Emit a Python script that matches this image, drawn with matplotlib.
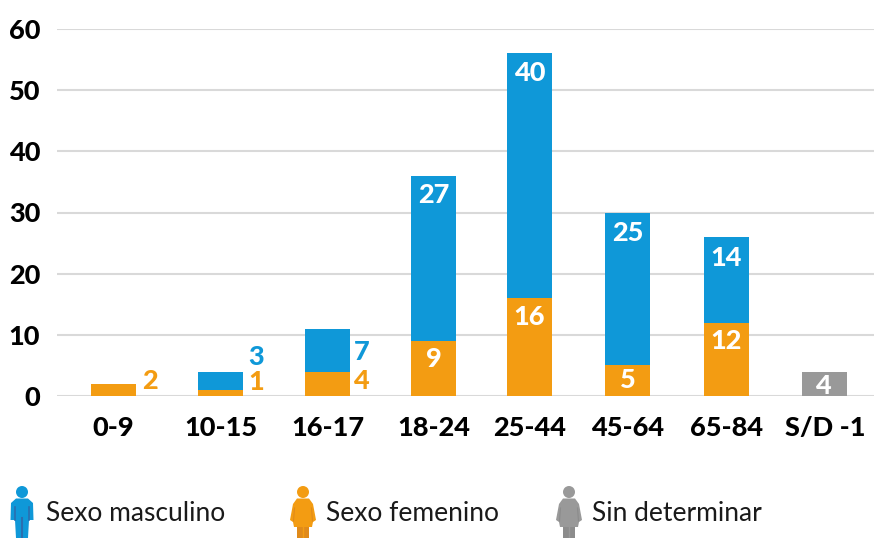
import matplotlib
matplotlib.use('Agg')
import matplotlib.pyplot as plt
from matplotlib.patches import Circle, Polygon

plt.rcParams['font.family'] = ['Lato', 'DejaVu Sans']

# Data
categories = ['0-9', '10-15', '16-17', '18-24', '25-44', '45-64', '65-84', 'S/D -1']
femenino = [2, 1, 4, 9, 16, 5, 12, 0]
masculino = [0, 3, 7, 27, 40, 25, 14, 0]
sin_determinar = [0, 0, 0, 0, 0, 0, 0, 4]
y_ticks = [0, 10, 20, 30, 40, 50, 60]

# Bars are not evenly spaced in the original (pixels from the left edge)
bar_x = [113.5, 220.5, 327.5, 433.5, 529.5, 627.5, 726.5, 825]
bar_w = 45

# Where each value label sits: (dx from bar centre in px, height in axis units)
fem_label_pos = [(36, 2.45), (36, 2.25), (33, 2.45), (0, 6.05), (0, 12.85), (0, 2.55), (0, 8.95)]
mas_label_pos = [None, (36, 6.35), (34, 7.15), (0, 32.85), (0, 52.75), (0, 26.65), (0, 22.55)]

BLUE = '#0F98D8'
ORANGE = '#F39C12'
GRAY = '#999999'
W, H = 874, 538
LABEL_SIZE = 19.5

fig = plt.figure(figsize=(W / 100, H / 100), dpi=100)
y0, y60 = 396, 29
ax = fig.add_axes([57 / W, 1 - y0 / H, (W - 57) / W, (y0 - y60) / H])
ax.set_xlim(57, W)
ax.set_ylim(0, 60)
ax.patch.set_alpha(0)

ax.bar(bar_x, femenino, width=bar_w, color=ORANGE, zorder=3)
ax.bar(bar_x, masculino, width=bar_w, bottom=femenino, color=BLUE, zorder=3)
ax.bar(bar_x, sin_determinar, width=bar_w, color=GRAY, zorder=3)

ax.set_yticks(y_ticks)
ax.set_xticks(bar_x)
ax.set_xticklabels(categories)
ax.tick_params(length=0)
ax.tick_params(axis='x', pad=14.5)
ax.tick_params(axis='y', pad=12)
for lab in ax.get_xticklabels() + ax.get_yticklabels():
    lab.set_fontsize(LABEL_SIZE)
    lab.set_fontweight('black')
    lab.set_color('black')
ax.grid(axis='y', color='#D9D9D9', lw=1.5, zorder=0)
ax.set_axisbelow(True)
for s in ax.spines.values():
    s.set_visible(False)


def value_label(x, y, val, color):
    ax.text(x, y, str(val), color=color, fontsize=LABEL_SIZE, fontweight='black',
            ha='center', va='center', zorder=4)


# Small bars get their labels outside, to the right
for i in range(7):
    dx, y = fem_label_pos[i]
    value_label(bar_x[i] + dx, y, femenino[i], 'white' if dx == 0 else ORANGE)
    if mas_label_pos[i]:
        dx, y = mas_label_pos[i]
        value_label(bar_x[i] + dx, y, masculino[i], 'white' if dx == 0 else BLUE)
value_label(bar_x[7] - 2, 1.65, sin_determinar[7], 'white')

# Legend pictograms on an overlay in pixel coordinates
ov = fig.add_axes([0, 0, 1, 1])
ov.set_xlim(0, W)
ov.set_ylim(H, 0)
ov.axis('off')


def man(cx, color, dark):
    ov.add_patch(Circle((cx, 492), 6, color=color, lw=0))
    ov.add_patch(Polygon([(cx - 6, 498.5), (cx + 6, 498.5), (cx + 11, 503), (cx + 11.5, 520), (cx + 7, 520),
                          (cx + 6, 538), (cx - 6, 538), (cx - 7, 520), (cx - 11.5, 520), (cx - 11, 503)],
                         color=color, lw=0))
    ov.plot([cx, cx], [518, 538], color=dark, lw=1.5)
    ov.plot([cx - 7, cx - 7], [507, 520], color=dark, lw=1.2)
    ov.plot([cx + 7, cx + 7], [507, 520], color=dark, lw=1.2)


def woman(cx, color, dark):
    ov.add_patch(Circle((cx, 492), 6, color=color, lw=0))
    ov.add_patch(Polygon([(cx - 6, 498.5), (cx + 6, 498.5), (cx + 10, 504), (cx + 13, 520), (cx + 10, 522),
                          (cx + 9, 527), (cx - 9, 527), (cx - 10, 522), (cx - 13, 520), (cx - 10, 504)],
                         color=color, lw=0))
    ov.add_patch(Polygon([(cx - 6, 527), (cx + 6, 527), (cx + 6, 538), (cx - 6, 538)], color=dark, lw=0))
    ov.plot([cx, cx], [527, 538], color=color, lw=1)
    ov.plot([cx - 8.5, cx - 9.5], [508, 521], color=dark, lw=0.8)
    ov.plot([cx + 8.5, cx + 9.5], [508, 521], color=dark, lw=0.8)


man(22, BLUE, '#2A6FB0')
woman(303, ORANGE, '#E08A1A')
woman(569, GRAY, '#8C8C8C')

ov.text(46, 513.5, 'Sexo masculino', fontsize=19, color='#1A1A1A', va='center')
ov.text(326, 513.5, 'Sexo femenino', fontsize=19, color='#1A1A1A', va='center')
ov.text(592, 513.5, 'Sin determinar', fontsize=19, color='#1A1A1A', va='center')

plt.savefig('out.png', dpi=100)
